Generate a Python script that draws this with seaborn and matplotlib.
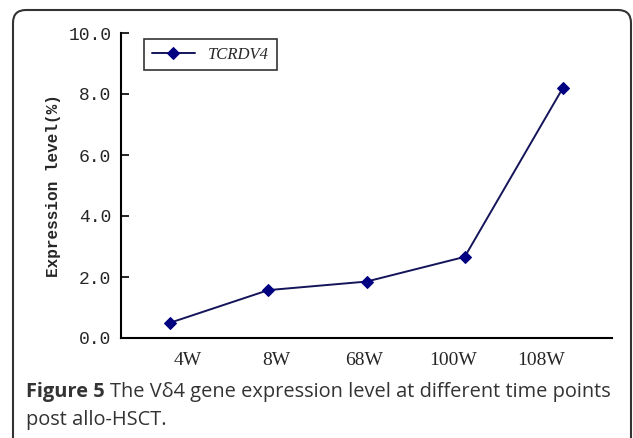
import matplotlib
matplotlib.use("Agg")
import matplotlib.pyplot as plt
from matplotlib.patches import FancyBboxPatch
from matplotlib.ticker import FormatStrFormatter
import numpy as np
import pandas as pd
import seaborn as sns

weeks = ["4W", "8W", "68W", "100W", "108W"]
expression = [0.5, 1.57, 1.85, 2.66, 8.2]
series_name = "TCRDV4"
y_ticks = [0.0, 2.0, 4.0, 6.0, 8.0, 10.0]

df = pd.DataFrame({"week": weeks, "expr": expression})

sns.set_style("white")
plt.rcParams["font.family"] = ["DejaVu Sans"]

fig = plt.figure(figsize=(6.33, 4.38), dpi=100)
ax = fig.add_axes([121 / 633, 1 - 338 / 438, (612 - 121) / 633, (338 - 33) / 438])

sns.lineplot(data=df, x="week", y="expr", sort=False, ax=ax,
             color="#14145a", linewidth=1.4, marker="D", markersize=6,
             markerfacecolor="#000080", markeredgecolor="#000080",
             label=series_name)

ax.set_xlim(-0.5, len(weeks) - 0.5)
ax.set_ylim(0, 10)

# tick labels in the original sit a bit off the points
ax.set_xticks(np.arange(len(weeks)) * 0.9 + 0.18)
ax.set_xticklabels(weeks, fontfamily="Liberation Serif", fontsize=14)
ax.tick_params(axis="x", length=0, pad=10)

ax.set_yticks(y_ticks)
ax.yaxis.set_major_formatter(FormatStrFormatter("%.1f"))
for t in ax.get_yticklabels():
    t.set_fontfamily("Liberation Mono")
    t.set_fontsize(13)
ax.tick_params(axis="y", direction="in", length=6, width=1.2, color="black", pad=7, left=True)

ax.set_xlabel("")
ax.set_ylabel("Expression level(%)", fontfamily="Liberation Mono", fontsize=11.5,
              fontweight="bold", labelpad=5)

for s in ["top", "right"]:
    ax.spines[s].set_visible(False)
for s in ["left", "bottom"]:
    ax.spines[s].set_color("black")
    ax.spines[s].set_linewidth(1.5)

leg = ax.legend(loc="upper left", bbox_to_anchor=(0.047, 0.98), borderaxespad=0,
                frameon=True, fancybox=False, handlelength=2.6, borderpad=0.45,
                prop={"family": "Liberation Serif", "style": "italic", "size": 12})
leg.get_frame().set_edgecolor("black")
leg.get_frame().set_linewidth(1.2)

# outer rounded frame
frame = FancyBboxPatch((0.13, -0.2), 6.18, 4.28 + 0.2,
                       boxstyle="round,pad=0,rounding_size=0.13",
                       transform=fig.dpi_scale_trans, fill=False,
                       edgecolor="#333333", linewidth=1.5)
fig.add_artist(frame)

cap_color = "#333333"
cap = fig.text(26 / 633, 1 - 397 / 438, "Figure 5", fontfamily="Open Sans", fontweight="bold",
               fontsize=14.4, color=cap_color, va="baseline")
ax.annotate("The V\u03b44 gene expression level at different time points",
            xy=(1, 0), xycoords=cap, xytext=(4, 0), textcoords="offset points",
            fontfamily="Open Sans", fontsize=14.4, color=cap_color, va="bottom",
            annotation_clip=False)
fig.text(26 / 633, 1 - 425 / 438, "post allo-HSCT.", fontfamily="Open Sans",
         fontsize=14.4, color=cap_color, va="baseline")

fig.savefig("out.png", dpi=100)
